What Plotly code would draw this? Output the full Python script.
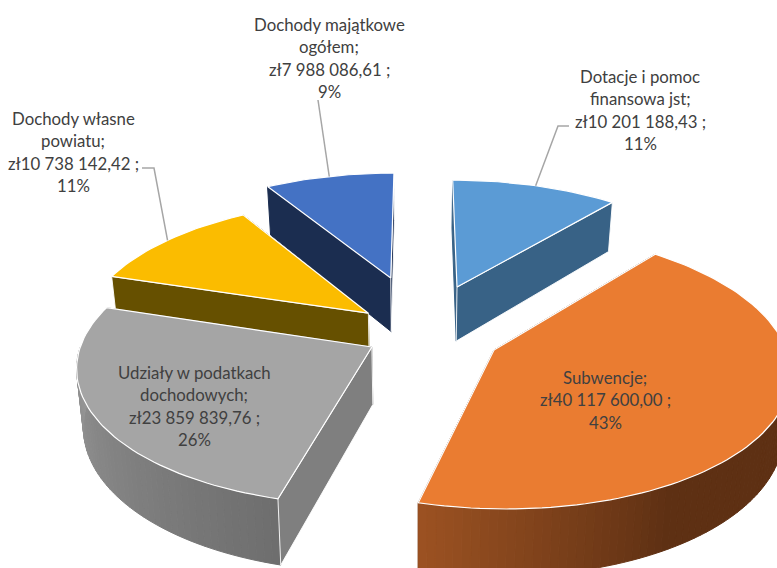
import math
import plotly.graph_objects as go

# ---- data ----
categories = ["Dotacje i pomoc finansowa jst", "Subwencje", "Udziały w podatkach dochodowych",
              "Dochody własne powiatu", "Dochody majątkowe ogółem"]
values = [10201188.43, 40117600.00, 23859839.76, 10738142.42, 7988086.61]
label_lines = [
    ["Dotacje i pomoc", "finansowa jst;", "zł10 201 188,43 ;", "11%"],
    ["Subwencje;", "zł40 117 600,00 ;", "43%"],
    ["Udziały w podatkach", "dochodowych;", "zł23 859 839,76 ;", "26%"],
    ["Dochody własne", "powiatu;", "zł10 738 142,42 ;", "11%"],
    ["Dochody majątkowe", "ogółem;", "zł7 988 086,61 ;", "9%"],
]

# ---- style ----
top_colors = ["#5B9BD5", "#EA7C31", "#A5A5A5", "#FBBC00", "#4472C4"]
cut_colors = ["#386286", "#5E3013", "#7F7F7F", "#665000", "#1B2D50"]
rim_near = ["#386286", "#9C5222", "#6E6E6E", "#665000", "#1B2D50"]
rim_far = ["#386286", "#5E3013", "#969696", "#665000", "#1B2D50"]
rim_span = [90, 45, 75, 90, 90]
front_cut = [1, None, 0, 0, 1]
pull_x = [0.1386, 0.2564, -0.1615, -0.1797, -0.104]
pull_y = [0.401, -0.0885, -0.0666, 0.19, 0.4757]
label_x = [640, 605, 194, 73, 329]
label_y = [76, 377, 372, 118, 24]
LINE_H = 22.6
elbow = {0: [(569, 126), (558, 126)], 3: [(142, 168), (154, 168)], 4: [(318, 100)]}
CX, CY, A, B, K, H, CONV = 419, 338, 289, 134, 0.135, 57, 0.02
FONT = "Lato"


def project(x, y, drop=False):
    w = 1 + K * y
    sx = CX + A * x / w
    sy = CY - B * y / w
    if drop:
        sy += H / w
        sx += (418 - sx) * CONV
    return sx, sy


def rim_point(i, deg, drop=False):
    r = math.radians(deg)
    return project(pull_x[i] + math.sin(r), pull_y[i] + math.cos(r), drop)


def hex_mix(c1, c2, t):
    a = [int(c1[j:j + 2], 16) for j in (1, 3, 5)]
    b = [int(c2[j:j + 2], 16) for j in (1, 3, 5)]
    return "#" + "".join(f"{round(p + (q - p) * t):02x}" for p, q in zip(a, b))


fig = go.Figure()


def poly(pts, fill, line=None, width=1.0):
    xs = [p[0] for p in pts] + [pts[0][0]]
    ys = [p[1] for p in pts] + [pts[0][1]]
    fig.add_trace(go.Scatter(x=xs, y=ys, mode="lines", fill="toself", fillcolor=fill,
                             line=dict(color=line or fill, width=width),
                             hoverinfo="skip", showlegend=False))


total = sum(values)
starts = [0]
for v in values:
    starts.append(starts[-1] + v / total * 360)

for i in [4, 0, 3, 2, 1]:  # painter's order, back to front
    a0, a1 = starts[i], starts[i + 1]
    apex_t = project(pull_x[i], pull_y[i])
    apex_b = project(pull_x[i], pull_y[i], True)


    def cut(ang, line=None, width=1.0):
        poly([apex_t, rim_point(i, ang), rim_point(i, ang, True), apex_b], cut_colors[i], line, width)


    fc = front_cut[i]
    for idx, ang in enumerate((a0, a1)):
        if idx != fc:
            cut(ang)
    lo, hi = max(a0, 90), min(a1, 270)
    if hi > lo:
        n = max(2, int((hi - lo) / 1.5))
        for j in range(n):
            d0 = lo + (hi - lo) * j / n
            d1 = lo + (hi - lo) * (j + 1) / n
            t = min(1, abs((d0 + d1) / 2 - 195) / rim_span[i])
            col = hex_mix(rim_near[i], rim_far[i], t)
            poly([rim_point(i, d0), rim_point(i, d1), rim_point(i, d1, True), rim_point(i, d0, True)], col)
    if fc is not None:
        cut((a0, a1)[fc], "#FFFFFF", 0.9)
    n = max(3, int((a1 - a0) / 1.5))
    arc = [rim_point(i, a0 + (a1 - a0) * j / n) for j in range(n + 1)]
    poly([apex_t] + arc, top_colors[i], "#FFFFFF", 1.2)

# leader lines
for i, pts in elbow.items():
    mid = (starts[i] + starts[i + 1]) / 2
    end = rim_point(i, mid)
    path = "M " + " L ".join(f"{x},{y}" for x, y in pts + [end])
    fig.add_shape(type="path", path=path, line=dict(color="#A6A6A6", width=1.5), xref="x", yref="y")

# labels
for i, lines in enumerate(label_lines):
    for k, txt in enumerate(lines):
        fig.add_annotation(x=label_x[i], y=label_y[i] + k * LINE_H, text=txt, showarrow=False,
                           xanchor="center", yanchor="middle",
                           font=dict(family=FONT, size=16.8, color="#404040"))

fig.update_layout(
    width=777, height=568, margin=dict(l=0, r=0, t=0, b=0),
    paper_bgcolor="white", plot_bgcolor="white", showlegend=False,
    xaxis=dict(range=[0, 777], visible=False, fixedrange=True),
    yaxis=dict(range=[568, 0], visible=False, fixedrange=True),
)
fig.write_html("out.html", config={"displayModeBar": False},
               post_script="document.body.style.margin='0';document.body.style.overflow='hidden';")
